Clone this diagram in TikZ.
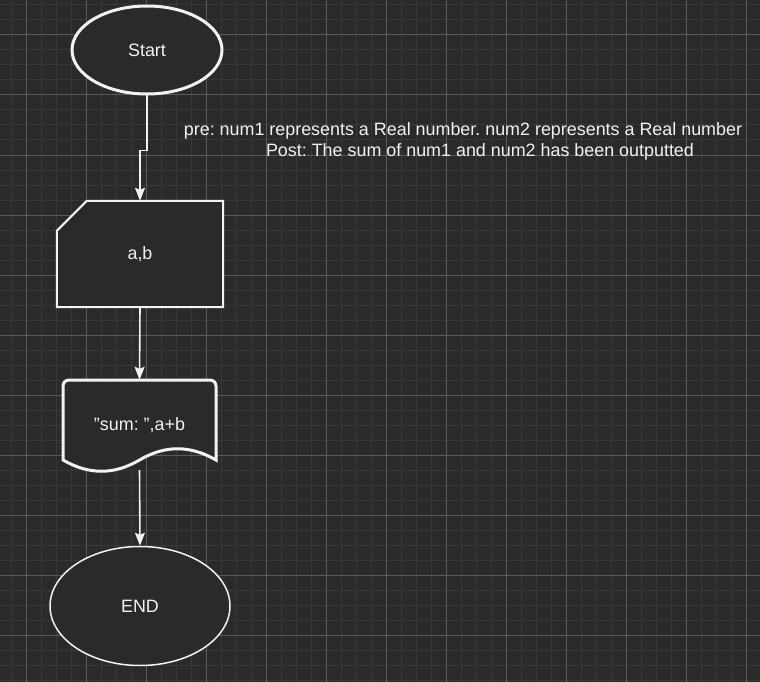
\documentclass[tikz,border=0pt]{standalone}
\usepackage{fontspec}
\setmainfont{Liberation Sans}
\frenchspacing
\usetikzlibrary{shapes.geometric,arrows.meta}
\definecolor{bg}{HTML}{2A2A2A}
\definecolor{gridminor}{HTML}{383838}
\definecolor{gridmajor}{HTML}{5A5A5A}
\definecolor{ink}{HTML}{F2F2F2}

\begin{document}
\begin{tikzpicture}[x=1pt,y=-1pt,
  txt/.style={text=ink,font=\fontsize{17.9}{22}\selectfont,inner sep=0pt},
  shapeline/.style={draw=ink,fill=bg},
  flow/.style={draw=ink,line width=1.6pt,-{Stealth[length=13pt,width=10pt,inset=2pt]}}]
\useasboundingbox (0,0) rectangle (760,682);
\fill[bg] (0,0) rectangle (760,682);
% grid
\foreach \x in {11,26,...,760} \draw[gridminor,line width=1pt] (\x,0) -- (\x,682);
\foreach \y in {5,20,...,682} \draw[gridminor,line width=1pt] (0,\y) -- (760,\y);
\foreach \x in {26,86,...,760} \draw[gridmajor,line width=1pt] (\x,0) -- (\x,682);
\foreach \y in {35,95,...,682} \draw[gridmajor,line width=1pt] (0,\y) -- (760,\y);

\node[shapeline, ellipse, line width=3pt, minimum width=150pt, minimum height=88pt, txt] (start) at (147,50) {Start};

\node[txt] (pre) at (463,131) {pre: num1 represents a Real number. num2 represents a Real number};
\node[txt] (post) at (480,152) {Post: The sum of num1 and num2 has been outputted};

\node[txt, minimum width=166pt, minimum height=106pt] (input) at (140,254) {};
\path[shapeline, line width=2pt] ([xshift=30pt]input.north west) -- (input.north east) -- (input.south east) -- (input.south west) -- ([yshift=-30pt]input.north west) -- cycle;
\node[txt] at (input.center) {a,b};

\node[txt, minimum width=153pt, minimum height=90pt] (output) at (139.5,425) {};
\path[shapeline, line width=3pt] (63,460) [rounded corners=6pt] -- (63,380) -- (216,380) [sharp corners] -- (216,460)
  .. controls (190,445) and (165,445) .. (139.5,460)
  .. controls (114,475) and (89,475) .. (63,460) -- cycle;
\node[txt] at (output.center) {\symbol{34}sum: \symbol{34},a+b};

\node[shapeline, ellipse, line width=1.5pt, minimum width=180pt, minimum height=119pt, txt] (end) at (140,606) {END};

\path[flow] (start.south) -- ++(0,55) -| (input.north);
\path[flow] (input.south) -- (output.north);
\path[flow] (output.south) -- (end.north);
\end{tikzpicture}
\end{document}
